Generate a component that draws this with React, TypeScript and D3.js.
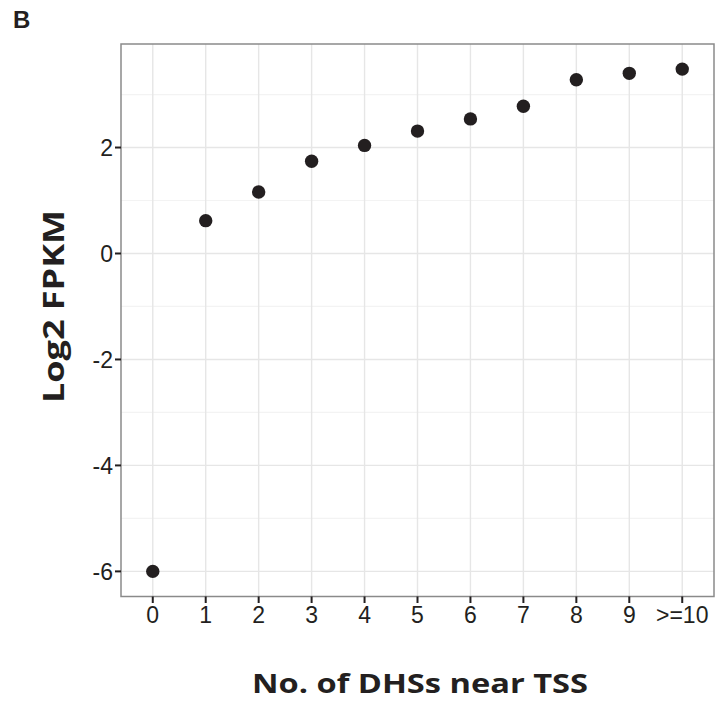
import React from "react";
import * as d3 from "d3";

const categories: string[] = ["0", "1", "2", "3", "4", "5", "6", "7", "8", "9", ">=10"];
const log2Fpkm: number[] = [-6.0, 0.62, 1.16, 1.74, 2.04, 2.31, 2.54, 2.78, 3.28, 3.4, 3.48];
const yMajorTicks: number[] = [-6, -4, -2, 0, 2];
const yMinorTicks: number[] = [-5, -3, -1, 1, 3];
const panelLabel = "B";
const xTitle = "No. of DHSs near TSS";
const yTitle = "Log2 FPKM";

const W = 716;
const H = 702;
const left = 121;
const right = 714;
const top = 44;
const bottom = 596.5;

export default function App() {
  const x = d3
    .scalePoint<string>()
    .domain(categories)
    .range([left, right])
    .padding(0.6);
  const [mn, mx] = d3.extent(log2Fpkm) as [number, number];
  const pad = (mx - mn) * 0.05;
  const y = d3.scaleLinear().domain([mn - pad, mx + pad]).range([bottom, top]);
  const dark = "#231f20";
  const tickFont = "'Liberation Sans', Arial, sans-serif";
  const titleFont = "'Open Sans', 'Liberation Sans', sans-serif";

  return (
    <svg
      width={W}
      height={H}
      style={{ position: "absolute", left: 0, top: 0, background: "#fff" }}
    >
      <rect x={0} y={0} width={W} height={H} fill="#fff" />
      <text x={13} y={28} fontFamily={tickFont} fontWeight="bold" fontSize={24} fill={dark}>
        {panelLabel}
      </text>
      {/* grid */}
      {yMinorTicks.map((t) => (
        <line key={"mn" + t} x1={left} x2={right} y1={y(t)} y2={y(t)} stroke="#f3f3f3" strokeWidth={1.2} />
      ))}
      {yMajorTicks.map((t) => (
        <line key={"mj" + t} x1={left} x2={right} y1={y(t)} y2={y(t)} stroke="#e6e6e6" strokeWidth={1.4} />
      ))}
      {categories.map((c) => (
        <line key={"vx" + c} x1={x(c)} x2={x(c)} y1={top} y2={bottom} stroke="#e6e6e6" strokeWidth={1.4} />
      ))}
      {/* frame */}
      <rect x={left} y={top} width={right - left} height={bottom - top} fill="none" stroke="#8a8a8a" strokeWidth={1.5} />
      {/* points */}
      {categories.map((c, i) => (
        <circle key={"p" + c} cx={x(c)} cy={y(log2Fpkm[i])} r={6.7} fill={dark} />
      ))}
      {/* y axis ticks */}
      {yMajorTicks.map((t) => (
        <g key={"yt" + t}>
          <line x1={left - 6} x2={left} y1={y(t)} y2={y(t)} stroke={dark} strokeWidth={2} />
          <text
            x={left - 8}
            y={y(t)}
            dy="0.36em"
            textAnchor="end"
            fontFamily={tickFont}
            fontSize={23}
            fill={dark}
          >
            {t}
          </text>
        </g>
      ))}
      {/* x axis ticks */}
      {categories.map((c) => (
        <g key={"xt" + c}>
          <line x1={x(c)} x2={x(c)} y1={bottom} y2={bottom + 6.5} stroke={dark} strokeWidth={2} />
          <text
            x={x(c)}
            y={623}
            textAnchor="middle"
            fontFamily={tickFont}
            fontSize={23}
            fill={dark}
          >
            {c}
          </text>
        </g>
      ))}
      {/* titles */}
      <text
        x={420}
        y={693}
        textAnchor="middle"
        fontFamily={titleFont}
        fontWeight="bold"
        fontSize={27}
        fill={dark}
        textLength={336}
        lengthAdjust="spacingAndGlyphs"
      >
        {xTitle}
      </text>
      <text
        transform="translate(63.5,306.5) rotate(-90)"
        textAnchor="middle"
        fontFamily={titleFont}
        fontWeight="bold"
        fontSize={29}
        fill={dark}
        textLength={193}
        lengthAdjust="spacingAndGlyphs"
      >
        {yTitle}
      </text>
    </svg>
  );
}
